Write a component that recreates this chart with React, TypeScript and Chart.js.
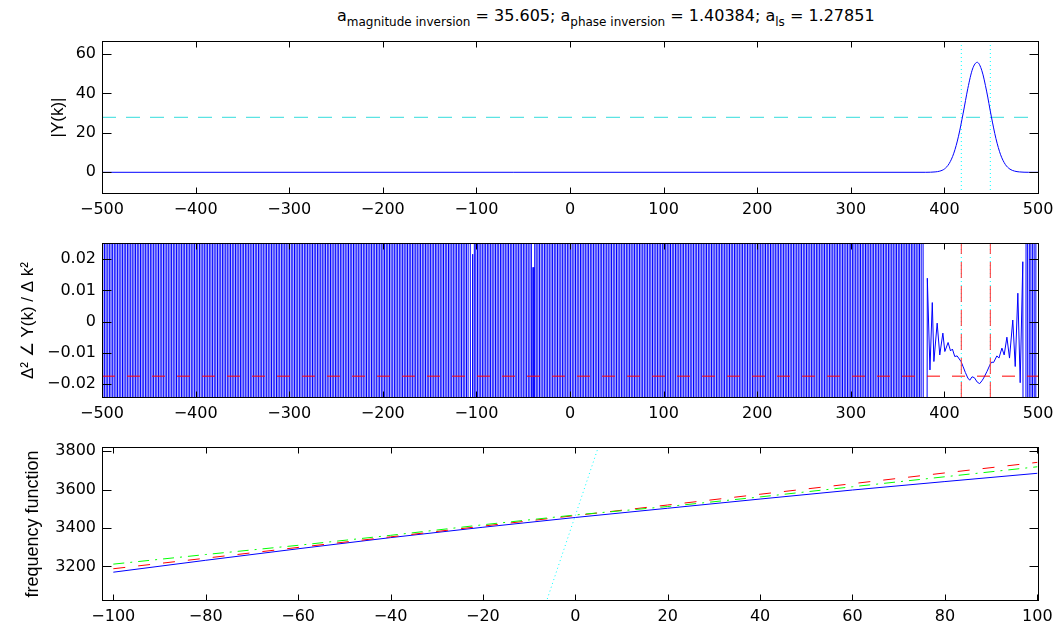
import React, { useEffect, useRef } from "react";
import { Chart, registerables } from "chart.js";

Chart.register(...registerables);

// ---------------- data ----------------
// panel 1: |Y(k)|
const kTicks = [-500, -400, -300, -200, -100, 0, 100, 200, 300, 400, 500];
const magTicks = [0, 20, 40, 60];
const magK = [-500, 380, 385, 390, 395, 400, 405, 410, 415, 420, 425, 430, 435, 440, 445, 450, 455, 460, 465, 470, 475, 480, 485, 490, 500];
const magV = [0, 0, 0.05, 0.2, 0.6, 1.7, 4.4, 9.7, 18.3, 30.0, 42.6, 52.4, 55.8, 51.5, 41.2, 28.5, 17.1, 8.9, 4.0, 1.6, 0.6, 0.2, 0.05, 0, 0];
const halfMax = 27.9;
const bandEdges = [418, 449];

// panel 2: second difference of the phase
const curvTicks = [-0.02, -0.01, 0, 0.01, 0.02];
const curvThreshold = -0.0175;
const curvOff = 0.5; // off-scale swing of the wrapped phase
const curvStride = 1.75; // spacing of the dense stripes
const curvRuns = [
  [-500, -107],
  [-101.5, -42],
  [-37, 374.5],
  [488, 500],
];
const curvDetailK = [-105, -104, -103, -40.5, -39.5, -38.5, 376, 378.5, 381.7, 384.5, 387, 388.7, 392.2, 395, 398.3, 400.4, 403.9, 406.5, 408.5, 411, 413.5, 417.7, 420, 422.3, 425, 427, 429.5, 432, 435, 437.6, 440, 441.9, 445.4, 449, 450.5, 452.5, 456, 458.2, 461.4, 463.8, 466.7, 469.5, 473, 475.6, 478.4, 480.9, 483.7, 486.2];
const curvDetailV = [-0.5, 0.0216, -0.5, -0.5, 0.0174, -0.5, 0.5, -0.5, 0.0139, -0.0155, 0.0061, -0.0128, -0.0005, -0.0107, -0.0037, -0.0096, -0.0067, -0.0094, -0.0088, -0.0112, -0.011, -0.0128, -0.0145, -0.0163, -0.0181, -0.0188, -0.0177, -0.018, -0.0194, -0.0199, -0.019, -0.0181, -0.016, -0.0136, -0.013, -0.0131, -0.011, -0.0117, -0.0085, -0.0107, -0.005, -0.0117, 0.0005, -0.0144, 0.0091, -0.0196, 0.0192, -0.5];

// panel 3: frequency function
const fTicksX = [-100, -80, -60, -40, -20, 0, 20, 40, 60, 80, 100];
const fTicksY = [3200, 3400, 3600, 3800];
const fK = [-100, -80, -60, -40, -20, 0, 20, 40, 60, 80, 100];
const fBlue = [3170, 3232, 3292, 3350, 3404, 3455, 3503, 3551, 3598, 3642, 3685];
const fRed = [3188, 3243, 3299, 3354, 3410, 3465, 3520, 3576, 3631, 3687, 3742];
const fGreen = [3212, 3262, 3310, 3362, 3417, 3468, 3512, 3562, 3615, 3667, 3719];
const fCyanK = [-8, 8];
const fCyanV = [2892, 4038];

// ---------------- helpers ----------------
const TICK_FONT = "'DejaVu Sans', sans-serif";
const LABEL_FONT = "'Liberation Sans', Arial, sans-serif";
const PLOT_LEFT = 102;
const PLOT_RIGHT = 1039;
const PAD_TOP = 14;

const fmt = (v: number) => (v < 0 ? "\u2212" + String(-v) : String(v));

const pts = (xs: number[], ys: number[]) => xs.map((x, i) => ({ x, y: ys[i] }));

function buildCurv() {
  const out: { x: number; y: number }[] = [];
  curvRuns.forEach(([a, b]) => {
    let s = 1;
    for (let k = a; k <= b + 1e-9; k += curvStride) {
      out.push({ x: k, y: s * curvOff });
      s = -s;
    }
  });
  curvDetailK.forEach((k, i) => out.push({ x: k, y: curvDetailV[i] }));
  out.sort((p, q) => p.x - q.x);
  return out;
}

const matlabBox = {
  id: "matlabBox",
  afterDraw(chart: any) {
    const { ctx, chartArea: a, scales } = chart;
    const xs = scales.x;
    const ys = scales.y;
    const L = Math.round(a.left) + 0.5;
    const R = Math.round(a.right) - 0.5;
    const T = Math.round(a.top) + 0.5;
    const B = Math.round(a.bottom) - 0.5;
    ctx.save();
    ctx.strokeStyle = "#000";
    ctx.lineWidth = 1;
    ctx.strokeRect(L, T, R - L, B - T);
    ctx.beginPath();
    xs.ticks.forEach((t: any) => {
      const x = Math.round(xs.getPixelForValue(t.value)) + 0.5;
      ctx.moveTo(x, B);
      ctx.lineTo(x, B - 6);
      ctx.moveTo(x, T);
      ctx.lineTo(x, T + 6);
    });
    ys.ticks.forEach((t: any) => {
      const y = Math.round(ys.getPixelForValue(t.value)) + 0.5;
      ctx.moveTo(L, y);
      ctx.lineTo(L + 9, y);
      ctx.moveTo(R, y);
      ctx.lineTo(R - 9, y);
    });
    ctx.stroke();
    ctx.restore();
  },
};

function xScale(min: number, max: number, ticks: number[], h: number) {
  return {
    type: "linear",
    position: "bottom",
    min,
    max,
    grid: { display: false, drawTicks: false },
    border: { display: false },
    ticks: {
      color: "#000",
      font: { family: TICK_FONT, size: 16 },
      padding: 6,
      autoSkip: false,
      maxRotation: 0,
      callback: (v: number) => fmt(v),
    },
    afterBuildTicks: (s: any) => {
      s.ticks = ticks.map((v) => ({ value: v }));
    },
    afterFit: (s: any) => {
      s.height = h;
      s.paddingLeft = 0;
      s.paddingRight = 0;
    },
  };
}

function yScale(min: number, max: number, ticks: number[], title: string, titlePad: number, titleSize: number) {
  return {
    type: "linear",
    position: "left",
    min,
    max,
    grid: { display: false, drawTicks: false },
    border: { display: false },
    title: {
      display: true,
      text: title,
      color: "#000",
      font: { family: LABEL_FONT, size: titleSize },
      padding: { top: titlePad, bottom: 0 },
    },
    ticks: {
      color: "#000",
      font: { family: TICK_FONT, size: 16 },
      padding: 6,
      autoSkip: false,
      callback: (v: number) => fmt(v),
    },
    afterBuildTicks: (s: any) => {
      s.ticks = ticks.map((v) => ({ value: v }));
    },
    afterFit: (s: any) => {
      s.width = PLOT_LEFT;
      s.paddingTop = 0;
      s.paddingBottom = 0;
    },
  };
}

function baseOptions(x: any, y: any) {
  return {
    responsive: false,
    maintainAspectRatio: false,
    animation: false,
    events: [],
    layout: { padding: { top: PAD_TOP, right: 1055 - PLOT_RIGHT, left: 0, bottom: 0 } },
    elements: { point: { radius: 0 }, line: { borderWidth: 1 } },
    plugins: { legend: { display: false }, tooltip: { enabled: false } },
    scales: { x, y },
  };
}

const line = (data: any[], color: string, extra: any = {}) => ({
  data,
  borderColor: color,
  backgroundColor: color,
  borderWidth: 1,
  pointRadius: 0,
  fill: false,
  tension: 0,
  ...extra,
});

function magConfig() {
  return {
    type: "line",
    data: {
      datasets: [
        line(pts(magK, magV), "#0000ff", { order: 1, cubicInterpolationMode: "monotone" }),
        line(
          [
            { x: -500, y: halfMax },
            { x: 501, y: halfMax },
          ],
          "#33dddd",
          { order: 2, borderDash: [14, 10] }
        ),
        line(
          [
            { x: bandEdges[0], y: -11 },
            { x: bandEdges[0], y: 66.6 },
            { x: 430, y: null },
            { x: bandEdges[1], y: -11 },
            { x: bandEdges[1], y: 66.6 },
          ],
          "#00ffff",
          { order: 3, borderDash: [1, 3] }
        ),
      ],
    },
    options: baseOptions(xScale(-500, 501, kTicks, 30), yScale(-11, 66.6, magTicks, "|Y(k)|", 48, 17)),
    plugins: [matlabBox],
  };
}

function curvConfig() {
  return {
    type: "line",
    data: {
      datasets: [
        line(
          [
            { x: -500, y: curvThreshold },
            { x: 501, y: curvThreshold },
          ],
          "#ff0000",
          { order: 0, borderDash: [13, 12] }
        ),
        line(
          [
            { x: bandEdges[0], y: -0.0245 },
            { x: bandEdges[0], y: 0.0252 },
            { x: 430, y: null },
            { x: bandEdges[1], y: -0.0245 },
            { x: bandEdges[1], y: 0.0252 },
          ],
          "#ff3333",
          { order: 0, borderDash: [16, 8] }
        ),
        line(
          [
            { x: bandEdges[0], y: -0.0245 },
            { x: bandEdges[0], y: 0.0252 },
            { x: 430, y: null },
            { x: bandEdges[1], y: -0.0245 },
            { x: bandEdges[1], y: 0.0252 },
          ],
          "#00ffff",
          { order: 1, borderDash: [1, 3] }
        ),
        line(buildCurv(), "#0000ff", { order: 2 }),
      ],
    },
    options: baseOptions(
      xScale(-500, 501, kTicks, 30),
      yScale(-0.0245, 0.0252, curvTicks, "\u0394\u00B2 \u2220 Y(k) / \u0394 k\u00B2", 18, 17)
    ),
    plugins: [matlabBox],
  };
}

function freqConfig() {
  return {
    type: "line",
    data: {
      datasets: [
        line(pts(fK, fGreen), "#00ff00", { order: 0, borderDash: [11, 6, 2, 6] }),
        line(pts(fK, fRed), "#ff0000", { order: 1, borderDash: [12, 13] }),
        line(pts(fK, fBlue), "#0000ff", { order: 2 }),
        line(pts(fCyanK, fCyanV), "#00ffff", { order: 3, borderDash: [1, 3] }),
      ],
    },
    options: baseOptions(
      xScale(-102.45, 100.37, fTicksX, 23),
      yScale(3020, 3822, fTicksY, "frequency function", 22, 18)
    ),
    plugins: [matlabBox],
  };
}

function Panel({ top, height, build }: { top: number; height: number; build: () => any }) {
  const ref = useRef<HTMLCanvasElement>(null);
  useEffect(() => {
    const chart = new Chart(ref.current as HTMLCanvasElement, build() as any);
    return () => chart.destroy();
  }, []);
  return (
    <canvas
      ref={ref}
      width={1055}
      height={height}
      style={{ position: "absolute", left: 0, top, width: 1055, height, display: "block" }}
    />
  );
}

const subStyle: React.CSSProperties = { fontSize: 12, position: "relative", top: 5 };

export default function App() {
  return (
    <div
      style={{
        position: "fixed",
        left: 0,
        top: 0,
        width: 1055,
        height: 624,
        background: "#fff",
        overflow: "hidden",
      }}
    >
      <div
        style={{
          position: "absolute",
          left: 337,
          top: 7,
          fontFamily: TICK_FONT,
          fontSize: 16,
          lineHeight: "18px",
          color: "#000",
          whiteSpace: "nowrap",
        }}
      >
        a<span style={subStyle}>magnitude inversion</span> = 35.605; a<span style={subStyle}>phase inversion</span> = 1.40384; a
        <span style={subStyle}>ls</span> = 1.27851
      </div>
      <Panel top={41 - PAD_TOP} height={PAD_TOP + 153 + 30} build={magConfig} />
      <Panel top={243 - PAD_TOP} height={PAD_TOP + 155 + 30} build={curvConfig} />
      <Panel top={447 - PAD_TOP} height={PAD_TOP + 154 + 23} build={freqConfig} />
    </div>
  );
}
